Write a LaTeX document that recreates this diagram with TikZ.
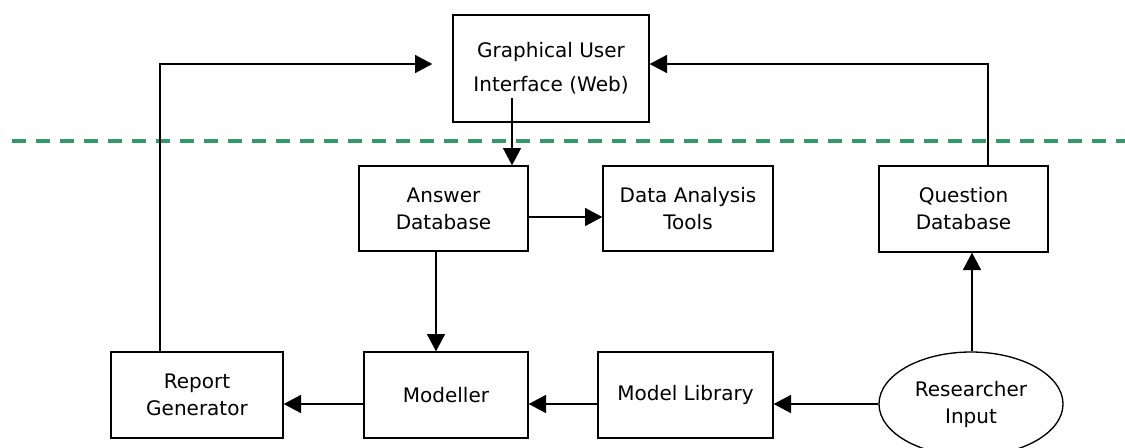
\documentclass[tikz,border=0pt]{standalone}
\usepackage{fontspec}
\setmainfont{DejaVu Sans}
\usetikzlibrary{arrows.meta,shapes.geometric}
\definecolor{sepgreen}{RGB}{52,153,102}
\tikzset{
	flow/.style={-{Triangle[length=13pt,width=13.5pt]},line width=1.2pt},
}
\begin{document}
\begin{tikzpicture}[x=0.75pt,y=-0.75pt,font=\fontsize{15pt}{20.25pt}\selectfont]
				\useasboundingbox (0,0) rectangle (1125,447);
				\path [draw=sepgreen,line width=3pt,dash pattern=on 10.5pt off 7.5pt] (12,141) -- (1125,141);
				
				\begin{scope}[every node/.style={rectangle,draw,line width=1pt,align=center,inner sep=0pt,minimum height=64.5pt}]
					\node[minimum width=147pt,minimum height=80.25pt,font=\fontsize{15pt}{25.5pt}\selectfont] (gui) at (551,68.5) {Graphical User\\Interface (Web)};
					\node[minimum width=126.75pt,minimum height=63.75pt] (ansdb) at (443.5,208.5) {Answer\\Database};
					\node[minimum width=127.5pt,minimum height=63.75pt] (datool) at (688,208.5) {Data Analysis\\Tools};
					\node[minimum width=126.75pt] (qdb) at (963.5,209) {Question\\Database};
					\node[minimum width=129pt] (report) at (197,395) {Report\\Generator};
					\node[minimum width=123pt] (modeller) at (446,395) {Modeller};
					\node[minimum width=131.25pt] (modlib) at (685.5,395) {Model Library};
				\end{scope}
				\node[ellipse,draw,line width=1pt,align=center,inner sep=0pt,minimum width=138pt,minimum height=78pt] (resin) at (971,404) {Researcher\\Input};
				\coordinate (guiout) at (512,98);
				
				\path [flow] (guiout) edge (guiout |- ansdb.north);
				\path [flow] (ansdb.east |- 0,217) edge (datool.west |- 0,217);
				\path [flow] (ansdb.south -| 436,0) edge (modeller.north -| 436,0);
				\path [flow] (modeller.west |- 0,404) edge (report.east |- 0,404);
				\path [flow] (modlib.west |- 0,404) edge (modeller.east |- 0,404);
				\path [flow] (resin.west) edge (modlib.east |- resin.west);
				\path [flow] (resin.north -| 972,0) edge (qdb.south -| 972,0);
				\draw [flow,shorten >=15pt] (report.north -| 160,0) |- (gui.west |- 0,64);
				\draw [flow] (qdb.north -| 988,0) |- (gui.east |- 0,64);
			\end{tikzpicture}
\end{document}
